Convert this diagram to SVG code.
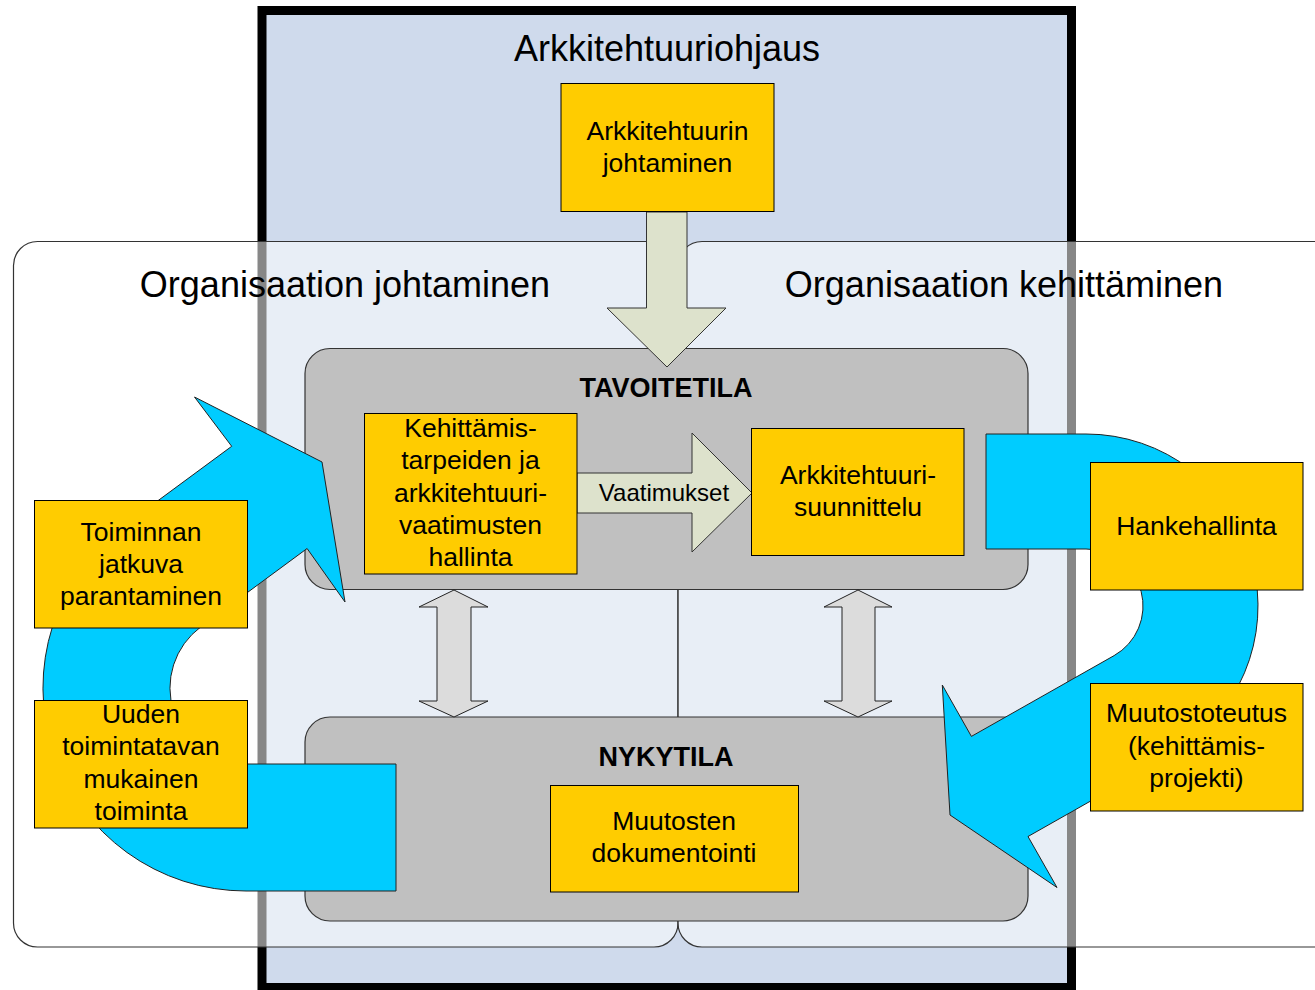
<svg xmlns="http://www.w3.org/2000/svg" width="1315" height="990" viewBox="0 0 1315 990">
<style>
text{font-family:"Liberation Sans",Arial,sans-serif;fill:#000;text-anchor:middle}
.title{font-size:36px}
.lbl{font-size:26.5px}
.hdr{font-size:27px;font-weight:bold}
.box{fill:#ffcc00;stroke:#000;stroke-width:1}
.panel{fill:#fff;fill-opacity:0.53;stroke:#333;stroke-width:1.2}
.state{fill:#c0c0c0;stroke:#333;stroke-width:1.2}
.blk{fill:#dde2cc;stroke:#333;stroke-width:1}
.dbl{fill:#dcdcdc;stroke:#222;stroke-width:1}
.blue{fill:#00ccff;stroke:#222;stroke-width:1}
</style>
<rect width="1315" height="990" fill="#fff"/>
<g id="arkkitehtuuriohjaus">
<rect x="262" y="10.5" width="809.5" height="977" fill="#cfdaec" stroke="#000" stroke-width="9"/>
<text class="title" x="667" y="61">Arkkitehtuuriohjaus</text>
</g>
<g id="organisaation-johtaminen">
<rect class="panel" x="13.5" y="241.5" width="664.5" height="705.5" rx="24"/>
<text class="title" x="345" y="297">Organisaation johtaminen</text>
</g>
<g id="organisaation-kehittaminen">
<rect class="panel" x="678" y="241.5" width="662" height="705.5" rx="24"/>
<text class="title" x="1004" y="297">Organisaation kehittäminen</text>
</g>
<g id="tavoitetila">
<rect class="state" x="305" y="348.5" width="723" height="241" rx="25"/>
<text class="hdr" x="666" y="397">TAVOITETILA</text>
</g>
<g id="nykytila">
<rect class="state" x="305" y="717" width="723" height="204" rx="25"/>
<text class="hdr" x="666" y="766">NYKYTILA</text>
</g>
<g id="connectors">
<path class="blk" d="M646.5,212 L687,212 L687,308 L726,308 L667,367 L607,308 L646.5,308 Z"/>
<path class="blk" d="M577,473 L692,473 L692,433 L752,493 L692,552 L692,513 L577,513 Z"/>
<text x="664" y="501" style="font-size:24px">Vaatimukset</text>
<path class="dbl" d="M454,590 L488,607 L471,607 L471,701 L488,701 L454,717 L419,701 L437,701 L437,607 L419,607 Z"/>
<path class="dbl" d="M858,590 L892,607 L875,607 L875,701 L892,701 L858,717 L824,701 L842,701 L842,607 L824,607 Z"/>
<path class="blue" d="M396,891 L246,891 A203,203 0 0 1 125.5,524.6 L231.7,446.3 L194.5,397 L322,462 L345,602 L307.1,548.5 L200.9,626.8 A76,76 0 0 0 246,764 L396,764 Z"/>
<path class="blue" d="M986,434 L1086,434 A172,172 0 0 1 1170.7,755.7 L1028,836.5 L1057,887.5 L950,815 L942.3,685 L971.4,736.4 L1114.1,655.6 A57,57 0 0 0 1086,549 L986,549 Z"/>
</g>
<g id="arkkitehtuurin-johtaminen">
<rect class="box" x="561" y="83.5" width="213" height="128"/>
<text class="lbl" x="667.5" y="140">Arkkitehtuurin</text>
<text class="lbl" x="667.5" y="172">johtaminen</text>
</g>
<g id="kehittamistarpeiden-hallinta">
<rect class="box" x="364.5" y="413.5" width="212.5" height="160.5"/>
<text class="lbl" x="470.5" y="437">Kehittämis-</text>
<text class="lbl" x="470.5" y="469">tarpeiden ja</text>
<text class="lbl" x="470.5" y="502">arkkitehtuuri-</text>
<text class="lbl" x="470.5" y="534">vaatimusten</text>
<text class="lbl" x="470.5" y="566">hallinta</text>
</g>
<g id="arkkitehtuurisuunnittelu">
<rect class="box" x="751.5" y="428.5" width="212.5" height="127"/>
<text class="lbl" x="858" y="484">Arkkitehtuuri-</text>
<text class="lbl" x="858" y="516">suunnittelu</text>
</g>
<g id="toiminnan-jatkuva-parantaminen">
<rect class="box" x="34.5" y="500.5" width="213" height="127.5"/>
<text class="lbl" x="141" y="541">Toiminnan</text>
<text class="lbl" x="141" y="573">jatkuva</text>
<text class="lbl" x="141" y="605">parantaminen</text>
</g>
<g id="uuden-toimintatavan-toiminta">
<rect class="box" x="34.5" y="700.5" width="213" height="127.5"/>
<text class="lbl" x="141" y="723">Uuden</text>
<text class="lbl" x="141" y="755">toimintatavan</text>
<text class="lbl" x="141" y="788">mukainen</text>
<text class="lbl" x="141" y="820">toiminta</text>
</g>
<g id="hankehallinta">
<rect class="box" x="1090.5" y="462.5" width="212.5" height="127.5"/>
<text class="lbl" x="1196.5" y="535">Hankehallinta</text>
</g>
<g id="muutostoteutus">
<rect class="box" x="1090.5" y="683.5" width="212.5" height="127.5"/>
<text class="lbl" x="1196.5" y="722">Muutostoteutus</text>
<text class="lbl" x="1196.5" y="755">(kehittämis-</text>
<text class="lbl" x="1196.5" y="787">projekti)</text>
</g>
<g id="muutosten-dokumentointi">
<rect class="box" x="550.5" y="785.5" width="248" height="106.5"/>
<text class="lbl" x="674" y="830">Muutosten</text>
<text class="lbl" x="674" y="862">dokumentointi</text>
</g>
</svg>
